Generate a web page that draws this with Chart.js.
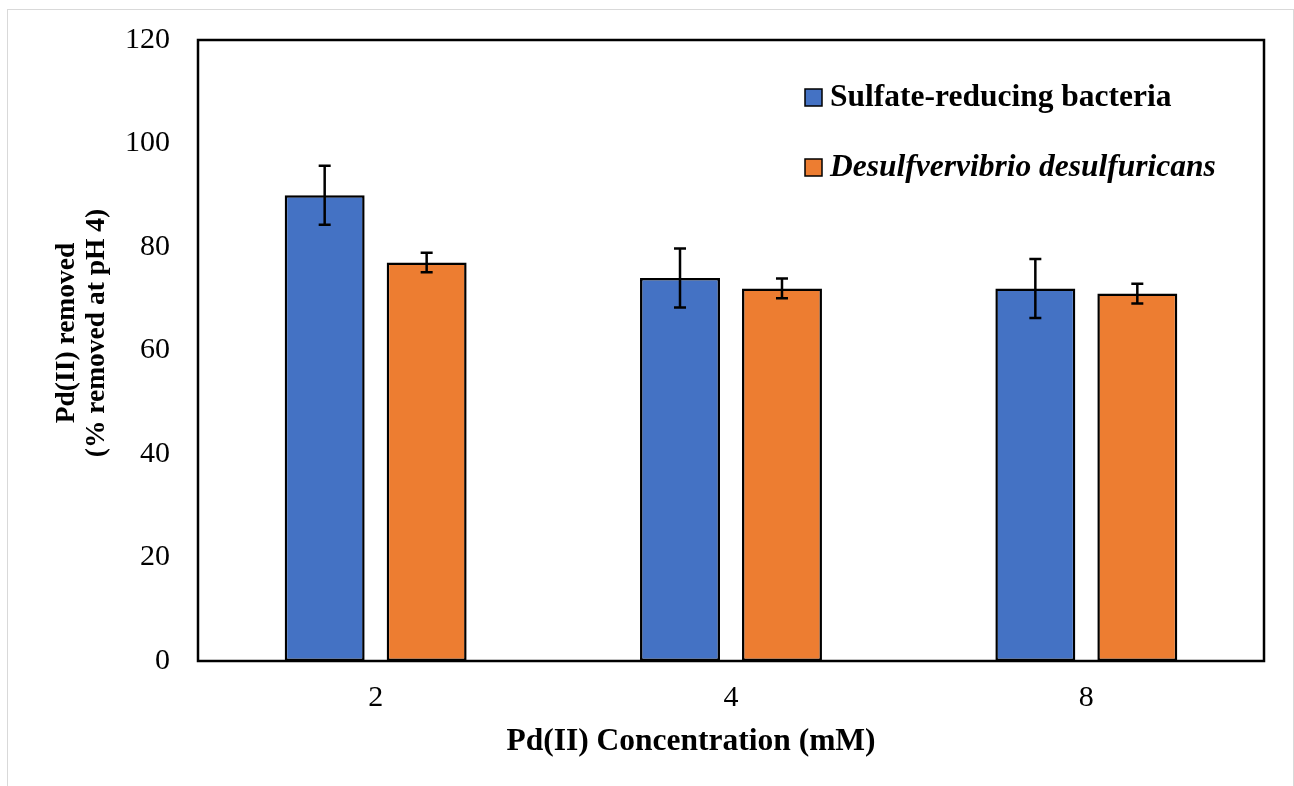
<!DOCTYPE html>
<html>
<head>
<meta charset="utf-8">
<title>Pd(II) removal</title>
<script src="https://cdn.jsdelivr.net/npm/chart.js@4"></script>
<style>
  html, body { margin: 0; padding: 0; background: #fff; overflow: hidden; }
  #frame { position: absolute; left: 7px; top: 9px; width: 1285px; height: 800px; border: 1px solid #d9d9d9; }
  #wrap { position: absolute; left: 0; top: 0; width: 1294px; height: 786px; }
</style>
</head>
<body>
<div id="frame"></div>
<div id="wrap"><canvas id="chart" width="1294" height="786"></canvas></div>
<script>
// concentrations (mM) on the x axis
const concentrations = ['2', '4', '8'];

// % Pd(II) removed at pH 4, with +/- error
const srbValues = [90, 74, 72];
const srbErrors = [5.7, 5.7, 5.7];
const ddValues = [77, 72, 71];
const ddErrors = [1.9, 1.9, 1.9];

const yTicks = [0, 20, 40, 60, 80, 100, 120];

const xTitle = 'Pd(II) Concentration (mM)';
const yTitle = ['Pd(II) removed', '(% removed at pH 4)'];

const serif = '"Liberation Serif", "Times New Roman", serif';

// error bars drawn on top of each bar
const errorBars = {
  id: 'errorBars',
  afterDatasetsDraw(chart) {
    const ctx = chart.ctx;
    const y = chart.scales.y;
    ctx.save();
    ctx.strokeStyle = '#000';
    ctx.lineWidth = 2.5;
    chart.data.datasets.forEach((ds, i) => {
      const meta = chart.getDatasetMeta(i);
      meta.data.forEach((bar, j) => {
        const v = ds.data[j], e = ds.errors[j];
        const top = y.getPixelForValue(v + e);
        const bot = y.getPixelForValue(v - e);
        const x = bar.x;
        ctx.beginPath();
        ctx.moveTo(x, top); ctx.lineTo(x, bot);
        ctx.moveTo(x - 6, top); ctx.lineTo(x + 6, top);
        ctx.moveTo(x - 6, bot); ctx.lineTo(x + 6, bot);
        ctx.stroke();
      });
    });
    ctx.restore();
  }
};

// box round the plot area, axis titles and the legend in the top right corner
const frameAndLegend = {
  id: 'frameAndLegend',
  afterDraw(chart) {
    const ctx = chart.ctx;
    const a = chart.chartArea;
    ctx.save();
    ctx.strokeStyle = '#000';
    ctx.lineWidth = 2.5;
    ctx.strokeRect(a.left, a.top, a.right - a.left, a.bottom - a.top);

    ctx.fillStyle = '#000';
    ctx.textAlign = 'center';
    ctx.textBaseline = 'middle';
    ctx.font = 'bold 31.5px ' + serif;
    ctx.fillText(xTitle, a.left + 493, a.bottom + 81);

    ctx.save();
    ctx.translate(67, a.top + 293);
    ctx.rotate(-Math.PI / 2);
    ctx.font = 'bold 27.5px ' + serif;
    yTitle.forEach((line, i) => ctx.fillText(line, 0, i * 30));
    ctx.restore();

    const lx = a.right - 459;
    let ly = a.top + 49;
    chart.data.datasets.forEach((ds) => {
      ctx.fillStyle = ds.backgroundColor;
      ctx.fillRect(lx, ly, 17, 17);
      ctx.lineWidth = 1.5;
      ctx.strokeRect(lx, ly, 17, 17);
      ctx.fillStyle = '#000';
      ctx.font = (ds.italicLabel ? 'italic ' : '') + 'bold 31.5px ' + serif;
      ctx.textAlign = 'left';
      ctx.fillText(ds.label, lx + 25, ly + 9);
      ly += 70;
    });
    ctx.restore();
  }
};

new Chart(document.getElementById('chart'), {
  type: 'bar',
  data: {
    labels: concentrations,
    datasets: [
      {
        label: 'Sulfate-reducing bacteria',
        data: srbValues,
        errors: srbErrors,
        backgroundColor: '#4472C4',
        borderColor: '#000',
        borderWidth: 2.5,
        borderSkipped: false,
        categoryPercentage: 0.574,
        barPercentage: 0.784
      },
      {
        label: 'Desulfvervibrio desulfuricans',
        data: ddValues,
        errors: ddErrors,
        italicLabel: true,
        backgroundColor: '#ED7D31',
        borderColor: '#000',
        borderWidth: 2.5,
        borderSkipped: false,
        categoryPercentage: 0.574,
        barPercentage: 0.784
      }
    ]
  },
  options: {
    responsive: false,
    animation: false,
    layout: { padding: { left: 0, top: 30, right: 30, bottom: 0 } },
    plugins: {
      legend: { display: false },
      tooltip: { enabled: false }
    },
    scales: {
      x: {
        grid: { display: false, drawTicks: false },
        border: { display: false },
        ticks: { color: '#000', padding: 19, font: { family: serif, size: 30 } },
        afterFit(scale) { scale.height = 125; }
      },
      y: {
        min: 0,
        max: 120,
        grid: { display: false, drawTicks: false },
        border: { display: false },
        afterBuildTicks(scale) { scale.ticks = yTicks.map(v => ({ value: v })); },
        ticks: { color: '#000', padding: 28, font: { family: serif, size: 30, lineHeight: 0.8 } },
        afterFit(scale) { scale.width = 198; }
      }
    }
  },
  plugins: [errorBars, frameAndLegend]
});
</script>
</body>
</html>
